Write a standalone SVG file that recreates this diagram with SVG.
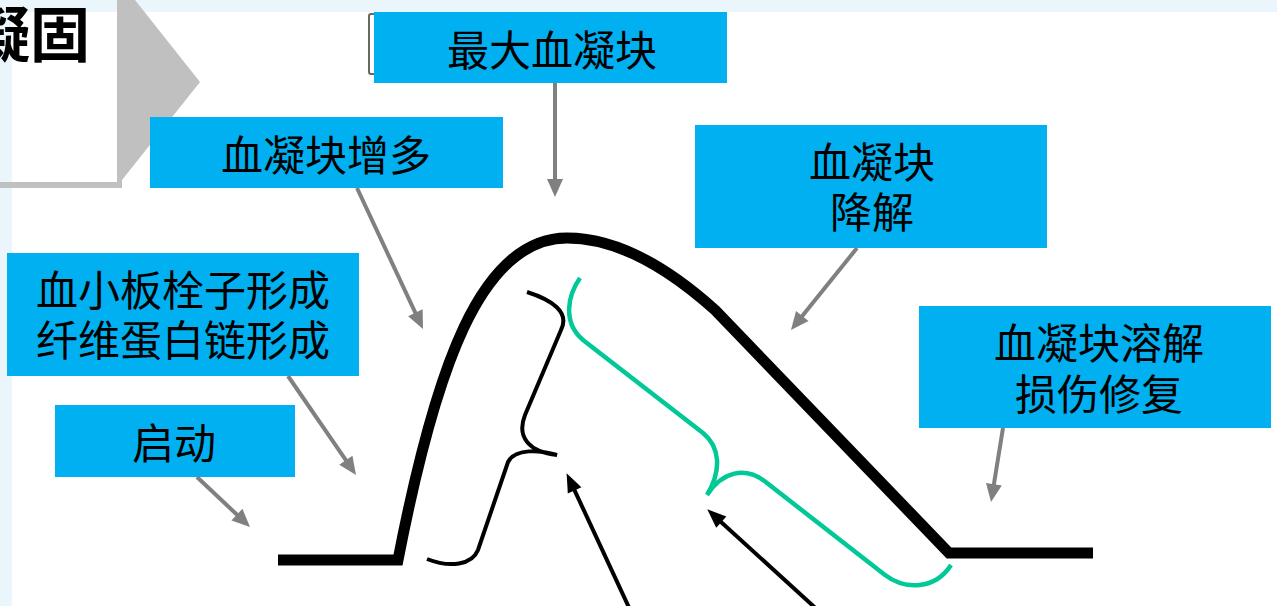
<svg xmlns="http://www.w3.org/2000/svg" width="1277" height="606" viewBox="0 0 1277 606">
<style>
.box{fill:#00B0F0}
.t{font-family:"Noto Sans CJK SC","Noto Sans",sans-serif;font-size:42px;fill:#000;text-anchor:middle}
.ga{stroke:#808080;stroke-width:4;fill:none;marker-end:url(#gh)}
.ba{stroke:#000;stroke-width:4;fill:none;marker-end:url(#bh)}
</style>
<defs>
<marker id="gh" markerUnits="userSpaceOnUse" markerWidth="20" markerHeight="18" refX="10" refY="8" orient="auto" overflow="visible">
<path d="M0,0 L18,8 L0,16 Z" fill="#808080"/>
</marker>
<marker id="bh" markerUnits="userSpaceOnUse" markerWidth="20" markerHeight="16" refX="10" refY="7.5" orient="auto" overflow="visible">
<path d="M0,0 L19,7.5 L0,15 Z" fill="#000"/>
</marker>
</defs>
<rect x="0" y="0" width="1277" height="606" fill="#fff"/>
<rect x="0" y="0" width="1277" height="12" fill="#EAF5FC"/>
<rect x="0" y="0" width="12" height="606" fill="#EAF5FC"/>
<g id="title">
<polygon points="0,0 135,0 200,82 122,180 122,188 0,188" fill="#C0C0C0"/>
<rect x="0" y="0" width="117" height="182" fill="#EAF5FC"/>
<rect x="12" y="12" width="105" height="170" fill="#fff"/>
<text x="90" y="57" style="font-family:'Noto Sans CJK SC',sans-serif;font-size:60px;font-weight:bold;text-anchor:end">凝固</text>
</g>
<g id="curve">
<path d="M278,560 L398,560 C435,370 480,238 567,238 C615,238 665,265 715,310 L949,553 L1093,553" fill="none" stroke="#000" stroke-width="11" stroke-linejoin="miter"/>
</g>
<g id="brace-black">
<path d="M527,292 C552,300 570,312 561,330 L525,415 C516,438 530,452 557,455 C540,450 515,448 508,462 L478,550 C472,565 450,568 427,559" fill="none" stroke="#000" stroke-width="4"/>
</g>
<g id="brace-green">
<path d="M580,278 C568,295 562,322 583,340 L703,433 C720,447 722,470 707,495 C722,472 745,465 767,483 L885,575 C905,590 935,590 951,565" fill="none" stroke="#00C896" stroke-width="4.5"/>
</g>
<g id="n-max">
<path d="M376,14 L371,14 Q369,14 369,16 L369,72 Q369,74 371,74 L376,74" fill="none" stroke="#666" stroke-width="2"/>
<rect class="box" x="374" y="12" width="353" height="71"/>
<text class="t" x="552" y="66">最大血凝块</text>
</g>
<g id="n-increase">
<rect class="box" x="150" y="117" width="353" height="71"/>
<text class="t" x="326" y="171">血凝块增多</text>
</g>
<g id="n-platelet">
<rect class="box" x="7" y="253" width="352" height="123"/>
<text class="t" x="183" y="306">血小板栓子形成</text>
<text class="t" x="183" y="356">纤维蛋白链形成</text>
</g>
<g id="n-start">
<rect class="box" x="55" y="405" width="240" height="72"/>
<text class="t" x="174" y="459">启动</text>
</g>
<g id="n-degrade">
<rect class="box" x="695" y="125" width="352" height="123"/>
<text class="t" x="872" y="178">血凝块</text>
<text class="t" x="872" y="228">降解</text>
</g>
<g id="n-lysis">
<rect class="box" x="919" y="306" width="352" height="122"/>
<text class="t" x="1099" y="359">血凝块溶解</text>
<text class="t" x="1099" y="410">损伤修复</text>
</g>
<g id="connectors">
<line class="ga" x1="197" y1="477" x2="244.2" y2="521.5"/>
<line class="ga" x1="288" y1="376" x2="351.5" y2="468.4"/>
<line class="ga" x1="357" y1="188" x2="419.6" y2="321.8"/>
<line class="ga" x1="555" y1="83" x2="555" y2="189"/>
<line class="ga" x1="857" y1="248" x2="796" y2="323.8"/>
<line class="ga" x1="1003" y1="428" x2="992.3" y2="494.1"/>
<line class="ba" x1="632" y1="614" x2="570.4" y2="481.3"/>
<line class="ba" x1="822" y1="614" x2="713.9" y2="515.4"/>
</g>
</svg>
